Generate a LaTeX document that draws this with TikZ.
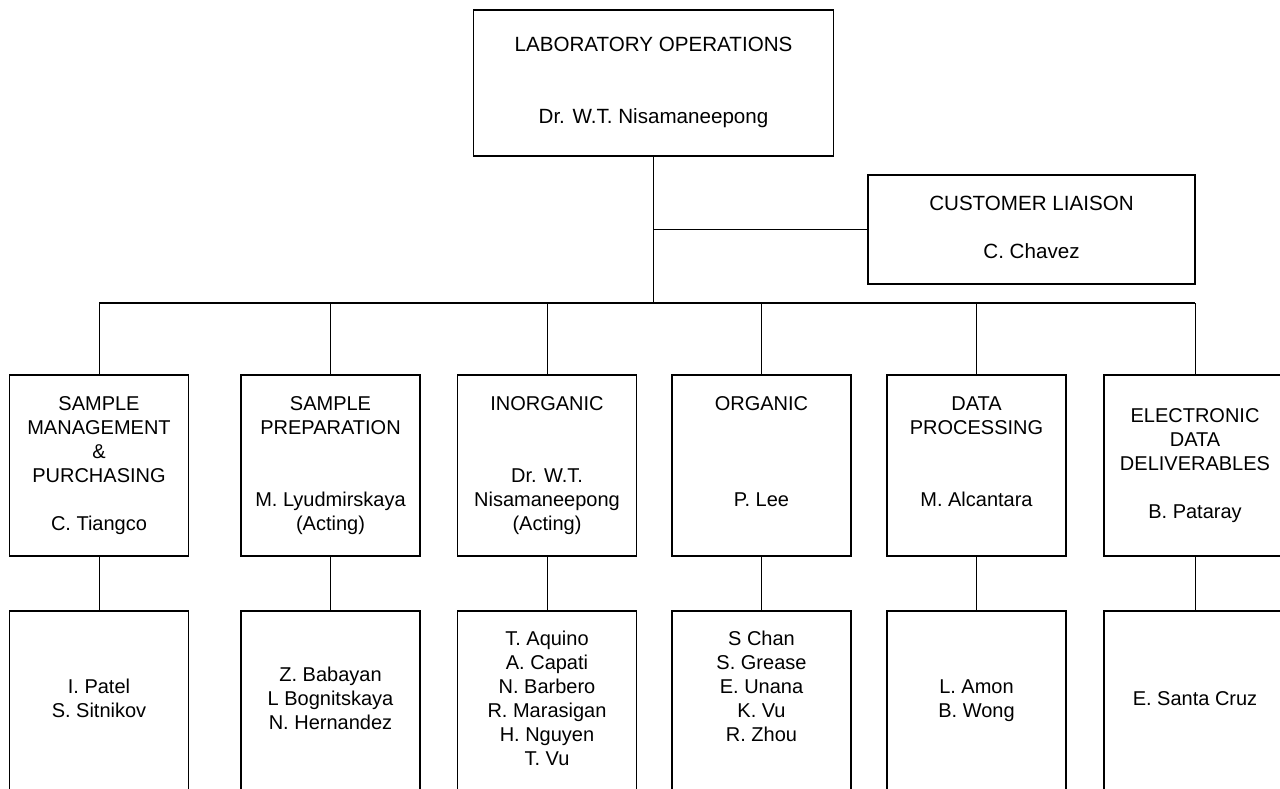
\documentclass[tikz,border=0pt]{standalone}
\usepackage{fontspec}
\setmainfont{Liberation Sans}
\newcommand{\orgfont}{\fontsize{20}{24}\selectfont}
\newcommand{\headfont}{\fontsize{20.6}{24}\selectfont}
\begin{document}
\begin{tikzpicture}[x=1pt,y=-1pt,
  unit/.style={draw, line width=1.3pt, inner sep=0pt, align=center, font=\orgfont},
  head/.style={unit, font=\headfont},
  dept/.style={unit, minimum width=179pt, minimum height=181pt},
  staff/.style={unit, minimum width=179pt, minimum height=180pt},
  link/.style={line width=1pt},
  busline/.style={line width=1.4pt}]
\useasboundingbox (0,0) rectangle (1280,789);

% head of the laboratory
\node[head, minimum width=360pt, minimum height=146pt] (lab) at (653.5,83)
  {\strut LABORATORY OPERATIONS\\[48pt]Dr. W.T. Nisamaneepong\strut};
\node[head, minimum width=327pt, minimum height=109pt] (cust) at (1031.5,229.5)
  {\strut CUSTOMER LIAISON\\[24pt]C. Chavez\strut};

% departments
\node[dept] (d1) at (99,465.5)
  {\strut SAMPLE\\MANAGEMENT\\\&\\PURCHASING\\[24pt]C. Tiangco\strut};
\node[dept] (d2) at (330.5,465.5)
  {\strut SAMPLE\\PREPARATION\\[48pt]M. Lyudmirskaya\\(Acting)\strut};
\node[dept] (d3) at (547,465.5)
  {\strut INORGANIC\\[48pt]Dr. W.T.\\Nisamaneepong\\(Acting)\strut};
\node[dept] (d4) at (761.5,465.5)
  {\strut ORGANIC\\[72pt]P. Lee\\\strut};
\node[dept] (d5) at (976.5,465.5)
  {\strut DATA\\PROCESSING\\[48pt]M. Alcantara\\\strut};
\node[dept, minimum width=182pt] (d6) at (1195,465.5)
  {\strut ELECTRONIC\\DATA\\DELIVERABLES\\[24pt]B. Pataray\strut};

% staff of each department
\node[staff] (s1) at (99,701) {\strut I. Patel\\S. Sitnikov\strut};
\node[staff] (s2) at (330.5,701) {\strut Z. Babayan\\L Bognitskaya\\N. Hernandez\strut};
\node[staff] (s3) at (547,701)
  {\strut T. Aquino\\A. Capati\\N. Barbero\\R. Marasigan\\H. Nguyen\\T. Vu\strut};
\node[staff] (s4) at (761.5,701)
  {\strut S Chan\\S. Grease\\E. Unana\\K. Vu\\R. Zhou\\\strut};
\node[staff] (s5) at (976.5,701) {\strut L. Amon\\B. Wong\strut};
\node[staff, minimum width=182pt] (s6) at (1195,701) {\strut E. Santa Cruz\strut};

% connectors
\coordinate (bus) at (0,303);
\draw[link] (lab.south) -- (lab.south |- bus);
\draw[link] (lab.south |- cust.west) -- (cust.west);
\draw[busline] (d1.north |- bus) -- (d6.north |- bus);
\foreach \d/\s in {d1/s1,d2/s2,d3/s3,d4/s4,d5/s5,d6/s6}{
  \draw[link] (\d.north |- bus) -- (\d.north);
  \draw[link] (\d.south) -- (\s.north);
}
\end{tikzpicture}
\end{document}
